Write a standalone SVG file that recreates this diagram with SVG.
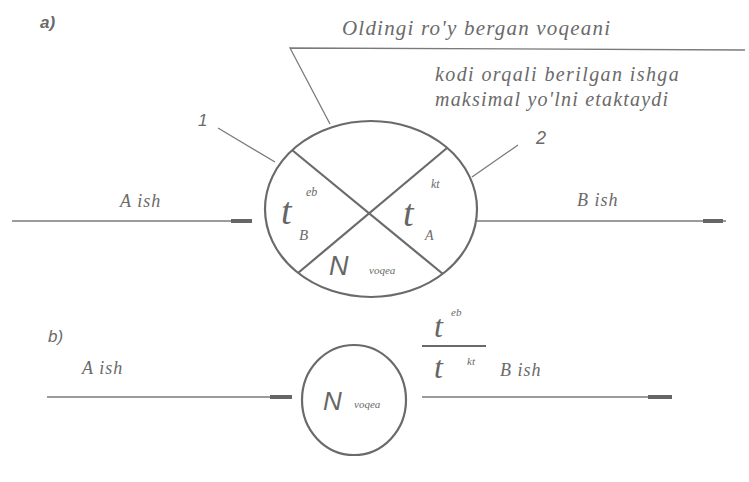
<svg xmlns="http://www.w3.org/2000/svg" width="749" height="482" viewBox="0 0 749 482">
<style>
.ln{stroke:#7a7a7a;stroke-width:1.3;fill:none}
.th{stroke:#6a6a6a;stroke-width:2.2;fill:none}
.tip{stroke:#666;stroke-width:4;fill:none}
.tx{font-family:'Liberation Serif','DejaVu Serif',serif;font-style:italic;fill:#6a6a6a}
.big{font-family:'Liberation Serif','DejaVu Serif',serif;font-style:italic;fill:#666}
.sans{font-family:'Liberation Sans',sans-serif;font-style:italic;fill:#6a6a6a}
</style>
<rect width="749" height="482" fill="#ffffff"/>
<text class="sans" x="40" y="28" font-size="17" font-weight="bold">a)</text>
<text class="sans" x="48" y="342" font-size="17">b)</text>
<g id="connectors">
<path class="ln" d="M12 221 H252"/>
<path class="tip" d="M231 221 H252"/>
<path class="ln" d="M477 221 H726"/>
<path class="tip" d="M703 221 H723"/>
<path class="ln" d="M47 397 H292"/>
<path class="tip" d="M270 397 H292"/>
<path class="ln" d="M422 397 H672"/>
<path class="tip" d="M648 397 H672"/>
<path class="ln" d="M330 124 L290 48 L745 50"/>
<path class="ln" d="M218 128 L275 162"/>
<path class="ln" d="M518 145 L472 177"/>
</g>
<g id="labels">
<text class="tx" x="342" y="35" font-size="21" letter-spacing="1.2">Oldingi ro'y bergan voqeani</text>
<text class="tx" x="435" y="81" font-size="20" letter-spacing="1.4">kodi orqali berilgan ishga</text>
<text class="tx" x="435" y="106" font-size="20" letter-spacing="1.2">maksimal yo'lni etaktaydi</text>
<text class="sans" x="198" y="126" font-size="17">1</text>
<text class="sans" x="536" y="144" font-size="18">2</text>
<text class="tx" x="120" y="207" font-size="18" letter-spacing="1">A ish</text>
<text class="tx" x="577" y="206" font-size="18" letter-spacing="1">B ish</text>
<text class="tx" x="82" y="374" font-size="18" letter-spacing="1">A ish</text>
<text class="tx" x="500" y="376" font-size="18" letter-spacing="1">B ish</text>
</g>
<g id="node-a">
<ellipse class="th" cx="371" cy="209" rx="106" ry="88"/>
<path class="th" d="M292 150 L443 274"/>
<path class="th" d="M447 148 L298 273"/>
<text class="big" x="281" y="224" font-size="38">t</text>
<text class="tx" x="306" y="196" font-size="12">eb</text>
<text class="tx" x="299" y="240" font-size="15">B</text>
<text class="big" x="403" y="226" font-size="38">t</text>
<text class="tx" x="431" y="188" font-size="12">kt</text>
<text class="tx" x="425" y="240" font-size="14">A</text>
<text x="329" y="275" font-family="'Liberation Sans',sans-serif" font-style="italic" font-size="27" fill="#666">N</text>
<text class="tx" x="369" y="274" font-size="11">voqea</text>
</g>
<g id="node-b">
<ellipse class="th" cx="354" cy="400" rx="52" ry="55"/>
<text x="323" y="410" font-family="'Liberation Sans',sans-serif" font-style="italic" font-size="26" fill="#666">N</text>
<text class="tx" x="354" y="408" font-size="11">voqea</text>
</g>
<g id="fraction">
<text class="big" x="434" y="337" font-size="32">t</text>
<text class="tx" x="451" y="316" font-size="11">eb</text>
<path class="th" d="M422 346 H486"/>
<text class="big" x="434" y="378" font-size="32">t</text>
<text class="tx" x="467" y="365" font-size="11">kt</text>
</g>
</svg>
